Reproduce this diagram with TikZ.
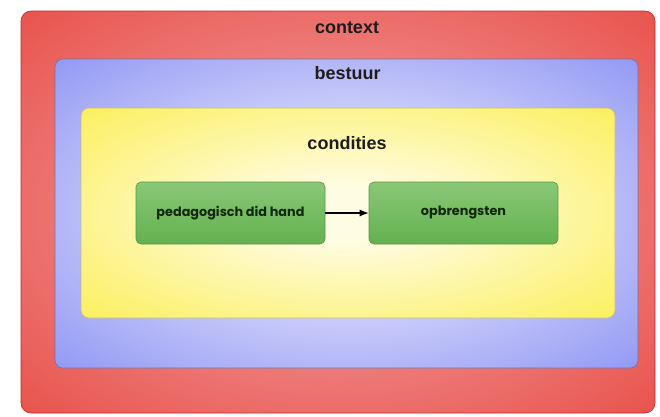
\documentclass[tikz,border=0pt]{standalone}
\usepackage{xcolor}
\usepackage{fontspec}
\usepackage{tikz}
\usetikzlibrary{arrows.meta}
\setmainfont{Liberation Sans}
\newfontfamily\boxfont{Poppins}

\definecolor{redouter}{RGB}{228,38,28}
\definecolor{redinner}{RGB}{240,150,150}
\definecolor{redline}{RGB}{190,40,35}
\definecolor{blueouter}{RGB}{104,114,240}
\definecolor{blueinner}{RGB}{228,228,252}
\definecolor{blueline}{RGB}{110,115,175}
\definecolor{yellowouter}{RGB}{250,236,55}
\definecolor{yellowinner}{RGB}{255,252,228}
\definecolor{yellowline}{RGB}{200,190,120}
\definecolor{greentop}{RGB}{138,200,118}
\definecolor{greenbottom}{RGB}{100,176,80}
\definecolor{greenline}{RGB}{88,150,70}
\definecolor{greentext}{RGB}{18,40,12}
\definecolor{titletext}{RGB}{30,28,30}

\pgfdeclareradialshading{redglow}{\pgfpoint{0bp}{0bp}}{color(0bp)=(redinner); color(8bp)=(redinner); color(54bp)=(redouter)}
\pgfdeclareradialshading{blueglow}{\pgfpoint{0bp}{0bp}}{color(0bp)=(blueinner); color(8bp)=(blueinner); color(50bp)=(blueouter)}
\pgfdeclareradialshading{yellowglow}{\pgfpoint{0bp}{0bp}}{color(0bp)=(yellowinner); color(6bp)=(yellowinner); color(44bp)=(yellowouter)}

\begin{document}
\begin{tikzpicture}[x=1pt, y=-1pt,
    every node/.style={rectangle, inner sep=0pt},
    layer/.style={draw=#1, line width=0.6pt},
    stepbox/.style={draw=greenline, line width=0.6pt, rounded corners=5pt,
        top color=greentop, bottom color=greenbottom,
        minimum width=189pt, minimum height=62pt,
        font=\boxfont\bfseries\fontsize{12.8}{14}\selectfont, text=greentext},
    title/.style={font=\bfseries\fontsize{18}{21}\selectfont, text=titletext}]
    \useasboundingbox (0,0) rectangle (660,416);
    \fill[white] (0,0) rectangle (660,416);

    % nested layers
    \node[layer=redline, rounded corners=10pt, shading=redglow,
        minimum width=634pt, minimum height=402pt] (context) at (338,212) {};
    \node[layer=blueline, rounded corners=8pt, shading=blueglow,
        minimum width=583pt, minimum height=309pt] (bestuur) at (346.5,213.5) {};
    \node[layer=yellowline, rounded corners=8pt, shading=yellowglow,
        minimum width=534pt, minimum height=210pt] (condities) at (348,213) {};

    \node[title] (contextlabel) at (347,28) {context};
    \node[title] (bestuurlabel) at (347.5,73) {bestuur};
    \node[title] (condlabel) at (347,143) {condities};

    % inner boxes
    \node[stepbox] (pedagogisch) at (230.5,213) {pedagogisch did hand};
    \node[stepbox] (opbrengsten) at (463.5,213) {opbrengsten};

    \draw[-{Latex[length=9pt,width=7pt]}, line width=1.1pt] (pedagogisch) -- (opbrengsten);
\end{tikzpicture}
\end{document}
